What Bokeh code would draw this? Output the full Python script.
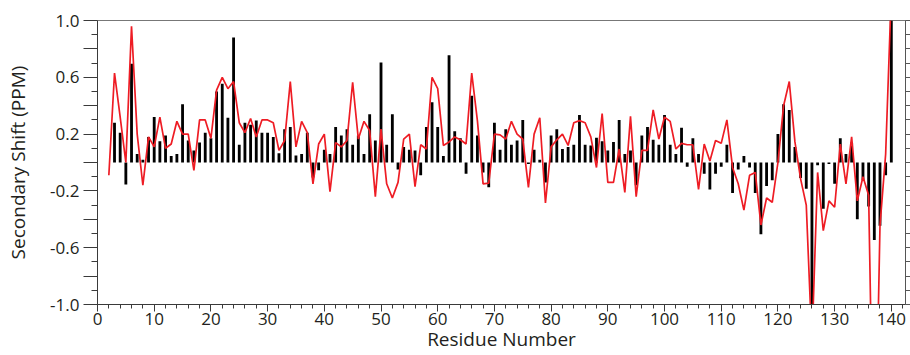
from bokeh.plotting import figure
from bokeh.models import Range1d, FixedTicker, LinearAxis, ColumnDataSource, CustomJSTickFormatter
from bokeh.embed import file_html
from bokeh.resources import INLINE

# ---- data ----
bar_residues = list(range(3, 141))
bar_shift = [
    0.28, 0.21, -0.155, 0.695, 0.06, 0.02, 0.18, 0.32, 0.15, 0.19,      # 3-12
    0.045, 0.06, 0.41, 0.155, 0.085, 0.14, 0.21, 0.17, 0.50, 0.555,     # 13-22
    0.315, 0.88, 0.125, 0.28, 0.265, 0.295, 0.21, 0.21, 0.18, 0.065,    # 23-32
    0.235, 0.25, 0.05, 0.06, 0.21, -0.105, -0.055, 0.09, 0.06, 0.25,    # 33-42
    0.19, 0.235, 0.125, 0.19, 0.06, 0.34, 0.155, 0.705, 0.125, 0.34,    # 43-52
    -0.05, 0.11, 0.09, 0.085, -0.09, 0.25, 0.425, 0.25, 0.045, 0.755,   # 53-62
    0.22, 0.17, -0.08, 0.47, 0.19, -0.07, -0.175, 0.28, 0.09, 0.235,    # 63-72
    0.125, 0.155, 0.30, -0.01, 0.09, 0.02, -0.14, 0.19, 0.235, 0.095,   # 73-82
    0.11, 0.125, 0.335, 0.125, 0.12, 0.175, 0.15, 0.085, 0.145, 0.30,   # 83-92
    0.06, 0.085, -0.16, 0.19, 0.25, 0.16, 0.125, 0.335, 0.125, 0.06,    # 93-102
    0.245, -0.03, 0.17, 0.06, -0.08, -0.19, -0.08, -0.03, 0.125, -0.215,  # 103-112
    -0.05, 0.045, -0.035, -0.215, -0.505, -0.165, -0.125, 0.20, 0.41, 0.37,  # 113-122
    0.11, -0.11, -0.185, -1.0, -0.02, -0.325, -0.01, -0.15, 0.17, 0.06,  # 123-132
    0.14, -0.40, -0.125, -0.31, -0.545, -0.445, -0.09, 1.0,            # 133-140
]
line_residues = list(range(2, 141))
line_shift = [
    -0.09, 0.63, 0.32, 0.0, 0.96, 0.20, -0.16, 0.18, 0.11,              # 2-10
    0.32, 0.10, 0.13, 0.29, 0.20, 0.20, -0.055, 0.30, 0.30, 0.17,       # 11-20
    0.51, 0.60, 0.52, 0.57, 0.28, 0.21, 0.31, 0.18, 0.30, 0.30,         # 21-30
    0.28, 0.085, 0.155, 0.57, 0.11, 0.29, 0.21, -0.15, 0.13, 0.20,      # 31-40
    -0.205, 0.14, 0.11, 0.155, 0.565, 0.165, 0.29, 0.225, -0.24, 0.235, # 41-50
    -0.15, -0.25, -0.14, 0.165, 0.20, -0.17, 0.125, 0.095, 0.60, 0.52,  # 51-60
    0.12, 0.145, 0.18, 0.16, 0.13, 0.63, 0.295, -0.15, -0.145, 0.20,    # 61-70
    0.195, 0.165, 0.29, 0.20, 0.165, -0.175, 0.20, 0.315, -0.285, 0.11, # 71-80
    0.16, 0.20, 0.12, 0.28, 0.295, 0.28, 0.18, -0.035, 0.345, -0.14,    # 81-90
    -0.14, 0.095, -0.21, 0.325, -0.24, 0.085, 0.085, 0.37, 0.165, 0.32, # 91-100
    0.29, 0.095, 0.135, 0.125, 0.125, -0.19, 0.13, 0.01, 0.155, 0.135,  # 101-110
    0.30, -0.035, -0.15, -0.335, -0.09, -0.07, -0.44, -0.25, -0.28, 0.0,  # 111-120
    0.40, 0.57, 0.145, -0.115, -0.30, -1.28, -0.07, -0.48, -0.27, -0.315,  # 121-130
    0.13, -0.15, 0.18, -0.27, -0.10, -0.23, -2.5, -0.445, 0.06, 1.2,    # 131-140
]

x_major_ticks = list(range(0, 141, 10))
x_minor_ticks = list(range(0, 143, 2))
y_major_ticks = [-1.0, -0.8, -0.6, -0.4, -0.2, 0.0, 0.2, 0.4, 0.6, 0.8, 1.0]
y_minor_ticks = [-0.9, -0.7, -0.5, -0.3, -0.1, 0.1, 0.3, 0.5, 0.7, 0.9]
y_tick_labels = {"1.0": "1.0", "0.6": "0.6", "0.2": "0.2",
                 "-0.2": "-0.2", "-0.6": "-0.6", "-1.0": "-1.0"}
right_ticks = [-1.0, -0.9, -0.8, -0.7, -0.6, -0.5, -0.4, -0.3, -0.2, -0.1, 0.0,
               0.1, 0.2, 0.3, 0.4, 0.5, 0.6, 0.7, 0.8, 0.9, 1.0]

FONT = "Open Sans"
TXT = "#231f20"
AX = "#3a3a3a"

p = figure(width=910, height=355, output_backend="svg", toolbar_location=None,
           x_range=Range1d(0, 142.5), y_range=Range1d(-1.0, 1.0),
           min_border_left=97, min_border_right=5, min_border_top=20, min_border_bottom=51,
           x_axis_label="Residue Number", y_axis_label="Secondary Shift (PPM)")
p.xgrid.visible = False
p.ygrid.visible = False
p.outline_line_color = "#777777"
p.outline_line_width = 1
p.background_fill_color = "white"
p.border_fill_color = "white"

bars = ColumnDataSource(dict(x=bar_residues, top=bar_shift))
p.vbar(x="x", top="top", bottom=0, width=0.5, source=bars,
       fill_color="black", line_color=None)

line = ColumnDataSource(dict(x=line_residues, y=line_shift))
p.line(x="x", y="y", source=line, line_color="#ee1c24", line_width=1.7)

xa = p.xaxis[0]
xa.ticker = FixedTicker(ticks=x_major_ticks, minor_ticks=x_minor_ticks)
xa.major_tick_out = 7
xa.major_tick_in = 0
xa.minor_tick_out = 4
xa.minor_tick_in = 0
xa.axis_line_color = AX
xa.major_tick_line_color = AX
xa.minor_tick_line_color = AX
xa.major_label_text_font = FONT
xa.major_label_text_font_size = "17px"
xa.major_label_text_color = TXT
xa.major_label_standoff = 1
xa.axis_label_text_font = FONT
xa.axis_label_text_font_size = "19px"
xa.axis_label_text_font_style = "normal"
xa.axis_label_text_color = TXT
xa.axis_label_standoff = -2

ya = p.yaxis[0]
ya.ticker = FixedTicker(ticks=y_major_ticks, minor_ticks=y_minor_ticks)
ya.formatter = CustomJSTickFormatter(args=dict(labels=y_tick_labels),
                                     code="const k = tick.toFixed(1); return (k in labels) ? labels[k] : '';")
ya.major_tick_out = 14
ya.major_tick_in = 0
ya.minor_tick_out = 6
ya.minor_tick_in = 0
ya.axis_line_color = AX
ya.major_tick_line_color = AX
ya.minor_tick_line_color = AX
ya.major_label_text_font = FONT
ya.major_label_text_font_size = "17px"
ya.major_label_text_color = TXT
ya.major_label_standoff = 4
ya.axis_label_text_font = FONT
ya.axis_label_text_font_size = "19px"
ya.axis_label_text_font_style = "normal"
ya.axis_label_text_color = TXT
ya.axis_label_standoff = 16

ra = LinearAxis(ticker=FixedTicker(ticks=right_ticks, minor_ticks=[]))
ra.major_tick_out = 5
ra.major_tick_in = 0
ra.minor_tick_out = 0
ra.minor_tick_in = 0
ra.major_label_text_font_size = "0px"
ra.major_label_text_color = None
ra.major_label_standoff = 0
ra.axis_line_color = "#555555"
ra.major_tick_line_color = "#555555"
p.add_layout(ra, "right")

open("out.html", "w").write(file_html(p, INLINE))
